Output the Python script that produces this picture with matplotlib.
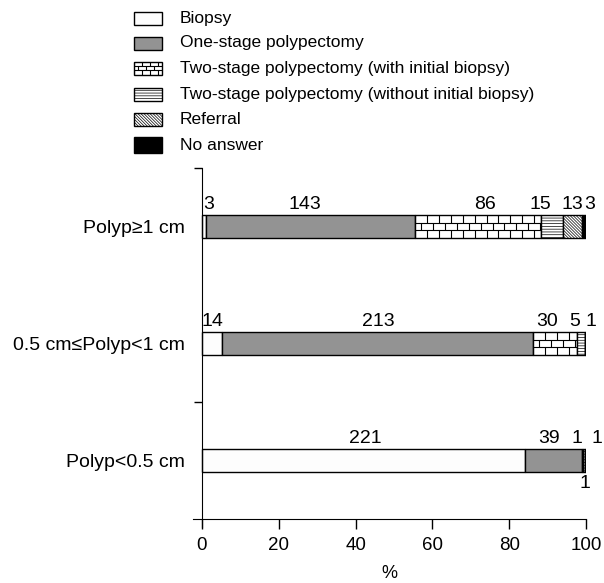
import numpy as np
import matplotlib.pyplot as plt
from matplotlib.collections import LineCollection
from matplotlib.patches import Rectangle

plt.rcParams['font.family'] = ['Liberation Sans', 'DejaVu Sans']
plt.rcParams['hatch.linewidth'] = 0.5

# data: number of answers per polyp size
categories = ['Polyp<0.5 cm', '0.5 cm≤Polyp<1 cm', 'Polyp≥1 cm']
series = ['Biopsy', 'One-stage polypectomy',
          'Two-stage polypectomy (with initial biopsy)',
          'Two-stage polypectomy (without initial biopsy)',
          'Referral', 'No answer']
biopsy = [221, 14, 3]
one_stage = [39, 213, 143]
two_stage_with = [1, 30, 86]
two_stage_without = [1, 5, 15]
referral = [0, 0, 13]
no_answer = [1, 1, 3]

counts = [biopsy, one_stage, two_stage_with, two_stage_without, referral, no_answer]

# styles
colors = ['#fdfdfd', '#939393', 'white', 'white', 'white', 'black']
hatches = [None, None, None, '------', '\\' * 11, None]
BRICK = 2

# label nudges in pixels (row -> per series), and labels placed under the bar
nudges = {0: [2, -4, -5, 1, 0, 12],
          1: [0, 0, -8, -6, 0, 6],
          2: [4, -6, 7, -11, 0, 6]}
below = {(0, 3)}


def add_bricks(ax, patch, x0, x1, y0, y1, bw, nrows, lw=0.8):
    segs = []
    h = (y1 - y0) / nrows
    for k in range(1, nrows):
        segs.append([(x0, y0 + k * h), (x1, y0 + k * h)])
    for r in range(nrows):
        off = 0 if r % 2 == 0 else bw / 2
        for xv in np.arange(x0 + off, x1, bw):
            segs.append([(xv, y0 + r * h), (xv, y0 + (r + 1) * h)])
    lc = LineCollection(segs, colors='black', linewidths=lw, zorder=patch.get_zorder() + 0.1)
    ax.add_collection(lc)
    lc.set_clip_path(patch)


W, H = 604, 583
fig = plt.figure(figsize=(W / 100, H / 100), dpi=100)

# legend drawn in pixel coordinates
lax = fig.add_axes([0, 0, 1, 1])
lax.set_xlim(0, W)
lax.set_ylim(H, 0)
lax.axis('off')
rows_y = [18, 43, 68, 94, 119, 145]
for i, name in enumerate(series):
    hh = 16 if i == 5 else 13
    rect = Rectangle((134, rows_y[i] - hh / 2), 28, hh, facecolor=colors[i],
                     edgecolor='black', lw=1, hatch=hatches[i])
    lax.add_patch(rect)
    if i == BRICK:
        add_bricks(lax, rect, 134, 162, rows_y[i] - hh / 2, rows_y[i] + hh / 2, 8, 3)
    lax.text(180, rows_y[i], name, ha='left', va='center', fontsize=12.5)

# main chart
ax = fig.add_axes([193 / W, 1 - 527 / H, (586 - 193) / W, (527 - 168) / H])
y = np.arange(len(categories))
totals = np.sum(np.array(counts), axis=0)
left = np.zeros(len(categories))
bar_h = 0.2
for i, vals in enumerate(counts):
    vals = np.array(vals)
    pct = vals / totals * 100
    bars = ax.barh(y, pct, left=left, height=bar_h, color=colors[i],
                   edgecolor='black', linewidth=1, hatch=hatches[i])
    for j, b in enumerate(bars):
        if vals[j] == 0:
            continue
        if i == BRICK:
            add_bricks(ax, b, left[j], left[j] + pct[j], y[j] - bar_h / 2,
                       y[j] + bar_h / 2, 3.1, 3)
        cx = left[j] + pct[j] / 2
        if (j, i) in below:
            ax.annotate(str(vals[j]), xy=(cx, y[j] - bar_h / 2),
                        xytext=(nudges[j][i], -3), textcoords='offset pixels',
                        ha='center', va='top', fontsize=14)
        else:
            ax.annotate(str(vals[j]), xy=(cx, y[j] + bar_h / 2),
                        xytext=(nudges[j][i], 2), textcoords='offset pixels',
                        ha='center', va='bottom', fontsize=14)
    left += pct

ax.set_xlim(-2.34, 100)
ax.set_ylim(-0.568, 2.5)
ax.spines['top'].set_visible(False)
ax.spines['right'].set_visible(False)
ax.spines['left'].set_position(('data', 0))
ax.spines['bottom'].set_position(('data', -0.5))
ax.patch.set_visible(False)

ax.set_xticks([0, 20, 40, 60, 80, 100])
ax.tick_params(axis='x', direction='out', length=7, width=1, labelsize=13.5, pad=6)
ax.set_yticks(y)
ax.set_yticklabels(categories)
ax.tick_params(axis='y', which='major', length=0, labelsize=14, pad=12)
ax.set_yticks([0.5, 2.5], minor=True)
ax.tick_params(axis='y', which='minor', direction='out', length=6, width=1)
ax.set_xlabel('%', fontsize=13, labelpad=8)

plt.savefig('out.png', dpi=100)
plt.close()
